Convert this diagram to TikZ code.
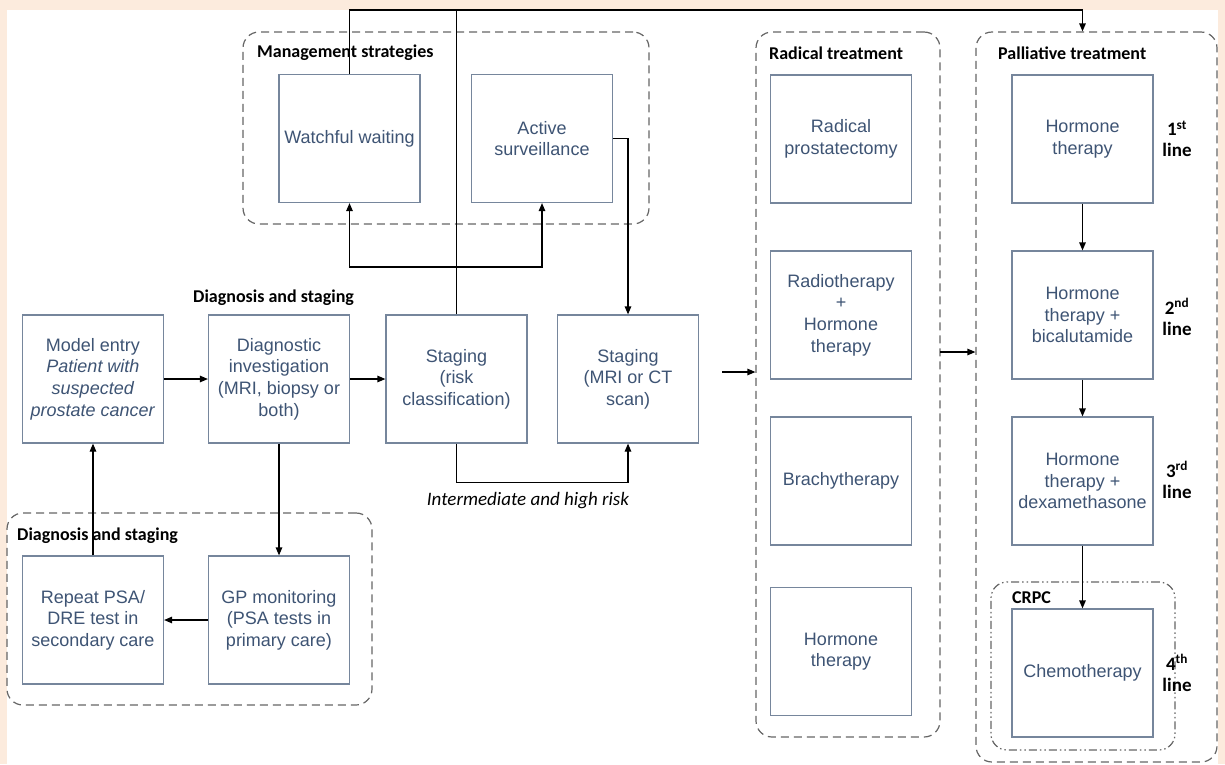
\documentclass[tikz,border=0pt]{standalone}
\usepackage{fontspec}
\setmainfont{Liberation Sans}
\newfontfamily\lblfont{Carlito}
\usetikzlibrary{positioning,arrows.meta,calc}
\definecolor{peach}{RGB}{252,235,221}
\definecolor{boxtext}{RGB}{62,84,116}
\definecolor{boxline}{RGB}{118,134,156}

\begin{document}
\begin{tikzpicture}[x=1pt, y=-1pt,
    font=\fontsize{18}{21.6}\selectfont,
    box/.style={draw=boxline, line width=1.2pt, fill=white, text=boxtext, align=center,
                minimum width=141pt, minimum height=128pt, inner sep=2pt},
    group/.style={draw=black!60, line width=1.2pt, dash pattern=on 8pt off 5pt,
                  rounded corners=16pt, inner sep=0pt},
    crpcgroup/.style={group, dash pattern=on 8pt off 3pt on 1.5pt off 3pt on 1.5pt off 3pt},
    title/.style={font=\lblfont\bfseries\fontsize{18}{21}\selectfont, anchor=west, inner sep=0pt},
    linelbl/.style={font=\lblfont\bfseries\fontsize{19}{21}\selectfont, align=center, inner sep=0pt},
    op/.style={-{Triangle[length=8pt,width=6.5pt]}, line width=1.2pt},
    ln/.style={line width=1.2pt},
  ]
  \useasboundingbox (0,0) rectangle (1225,764);
  \fill[peach] (0,0) rectangle (1225,764);
  \fill[white] (7,10) rectangle (1218,764);

  % groups
  \node[group, minimum width=406pt, minimum height=192pt] (mgmt) at (446,128) {};
  \node[group, minimum width=365pt, minimum height=192pt] (dsgrp) at (189.5,609) {};
  \node[group, minimum width=184pt, minimum height=705pt] (radical) at (848,384.5) {};
  \node[group, minimum width=241pt, minimum height=730pt] (pall) at (1096.5,397) {};
  \node[crpcgroup, minimum width=184pt, minimum height=168pt] (crpc) at (1083,666) {};

  \node[title] (tmgmt) at (257,53) {Management strategies};
  \node[title] (tdiag) at (193,298) {Diagnosis and staging};
  \node[title] (tds) at (17,536) {Diagnosis and staging};
  \node[title] (trad) at (769,53) {Radical treatment};
  \node[title] (tpall) at (998,53) {Palliative treatment};
  \node[title] (tcrpc) at (1012,598) {CRPC};

  % management strategies
  \node[box] (ww) at (349.5,138.5) {Watchful waiting};
  \node[box] (as) at (542,138.5) {Active\\surveillance};

  % diagnosis and staging
  \node[box] (model) at (93,379) {Model entry\\\textit{Patient with}\\\textit{suspected}\\\textit{prostate cancer}};
  \node[box] (diag) at (279,379) {Diagnostic\\investigation\\(MRI, biopsy or\\both)};
  \node[box] (risk) at (456.5,379) {Staging\\(risk\\classification)};
  \node[box] (mri) at (628,379) {Staging\\(MRI or CT\\scan)};
  \node[box] (repeat) at (93,620) {Repeat PSA/\\DRE test in\\secondary care};
  \node[box] (gp) at (279,620) {GP monitoring\\(PSA tests in\\primary care)};

  % radical treatment
  \node[box] (rp) at (841,139) {Radical\\prostatectomy};
  \node[box] (rt) at (841,315) {Radiotherapy\\+\\Hormone\\therapy};
  \node[box] (brachy) at (841,481) {Brachytherapy};
  \node[box] (hrad) at (841,651.5) {Hormone\\therapy};

  % palliative treatment
  \node[box] (h1) at (1082.5,139) {Hormone\\therapy};
  \node[box] (h2) at (1082.5,315) {Hormone\\therapy +\\bicalutamide};
  \node[box] (h3) at (1082.5,481) {Hormone\\therapy +\\dexamethasone};
  \node[box] (chemo) at (1082.5,673) {Chemotherapy};

  \node[linelbl] (l1) at (1177,139) {1\textsuperscript{st}\\line};
  \node[linelbl] (l2) at (1177,317) {2\textsuperscript{nd}\\line};
  \node[linelbl] (l3) at (1177,480) {3\textsuperscript{rd}\\line};
  \node[linelbl] (l4) at (1177,673) {4\textsuperscript{th}\\line};

  % connectors
  \coordinate (top) at (0,10);
  \coordinate (split) at (456.5,267);
  \coordinate (entry) at (722,372);
  \coordinate (rtp) at (940,352);

  \draw[op] (model) -- (diag);
  \draw[op] (diag) -- (risk);
  \draw[ln] (risk.north) -- (risk.north |- top);
  \draw[op] (ww.north) |- (top -| h1) -- (h1 |- pall.north);
  \draw[op] (split) -| (ww.south);
  \draw[op] (split) -| (as.south);
  \draw[op] (as.east) -| (mri.north);
  \draw[op] (risk.south) -- ++(0,39) -| (mri.south);
  \node[font=\lblfont\itshape\fontsize{19}{21}\selectfont] (ihr) at (528,501) {Intermediate and high risk};
  \draw[op] (diag) -- (gp);
  \draw[op] (gp) -- (repeat);
  \draw[op] (repeat) -- (model);
  \draw[op] (entry) -- (entry -| radical.west);
  \draw[op] (rtp) -- (rtp -| pall.west);
  \draw[op] (h1) -- (h2);
  \draw[op] (h2) -- (h3);
  \draw[op] (h3) -- (chemo);
\end{tikzpicture}
\end{document}
